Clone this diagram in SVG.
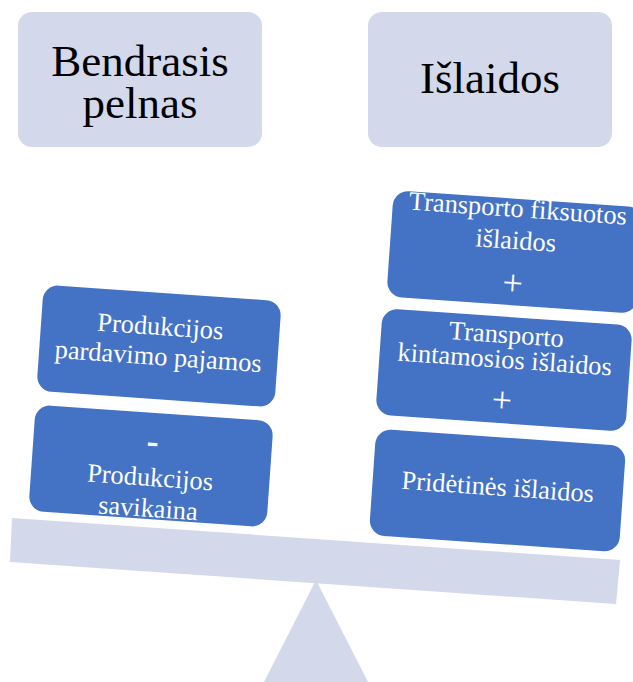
<svg xmlns="http://www.w3.org/2000/svg" width="633" height="682" viewBox="0 0 633 682">
<style>
.light{fill:#D3D9EB;}
.blue{fill:#4472C4;stroke:#FFFFFF;stroke-width:1.5;}
.ttl{font-family:"Liberation Serif","Times New Roman",serif;font-size:45px;fill:#000000;text-anchor:middle;}
.bt{font-family:"Liberation Serif","Times New Roman",serif;font-size:26.4px;fill:#FFFFFF;text-anchor:middle;}
.op{font-family:"Liberation Serif","Times New Roman",serif;font-size:36px;fill:#FFFFFF;text-anchor:middle;}
</style>
<rect width="633" height="682" fill="#FFFFFF"/>
<g id="title-left">
  <rect class="light" x="18" y="12" width="244" height="135" rx="14"/>
  <text class="ttl" x="140" y="76">Bendrasis</text>
  <text class="ttl" x="140" y="118">pelnas</text>
</g>
<g id="title-right">
  <rect class="light" x="368" y="12" width="244" height="135" rx="14"/>
  <text class="ttl" x="490" y="93">Išlaidos</text>
</g>
<g id="fulcrum">
  <polygon class="light" points="316,580 264,682 368,682"/>
</g>
<g id="left-1" transform="translate(159,346) rotate(4)">
  <rect class="blue" x="-120" y="-54" width="240" height="108" rx="16"/>
  <text class="bt" x="0" y="-11">Produkcijos</text>
  <text class="bt" x="0" y="19">pardavimo pajamos</text>
</g>
<g id="left-2" transform="translate(151,466) rotate(4)">
  <rect class="blue" x="-120" y="-54" width="240" height="108" rx="16"/>
  <text class="op" x="0" y="-13" font-weight="bold">-</text>
  <text class="bt" x="0" y="20">Produkcijos</text>
  <text class="bt" x="0" y="51">savikaina</text>
</g>
<g id="right-1" transform="translate(515,252) rotate(4)">
  <rect class="blue" x="-126" y="-54" width="252" height="108" rx="16"/>
  <text class="bt" x="0" y="-35">Transporto fiksuotos</text>
  <text class="bt" x="0" y="-3">išlaidos</text>
  <text class="op" x="0" y="43">+</text>
</g>
<g id="right-2" transform="translate(504,370) rotate(4)">
  <rect class="blue" x="-126" y="-54" width="252" height="108" rx="16"/>
  <text class="bt" x="0" y="-27">Transporto</text>
  <text class="bt" x="0" y="-2">kintamosios išlaidos</text>
  <text class="op" x="0" y="42">+</text>
</g>
<g id="right-3" transform="translate(497.5,490.5) rotate(4)">
  <rect class="blue" x="-126" y="-54" width="252" height="108" rx="16"/>
  <text class="bt" x="0" y="5">Pridėtinės išlaidos</text>
</g>
<g id="beam">
  <polygon class="light" points="12,518 620,560 616,604 10,562"/>
</g>
</svg>
